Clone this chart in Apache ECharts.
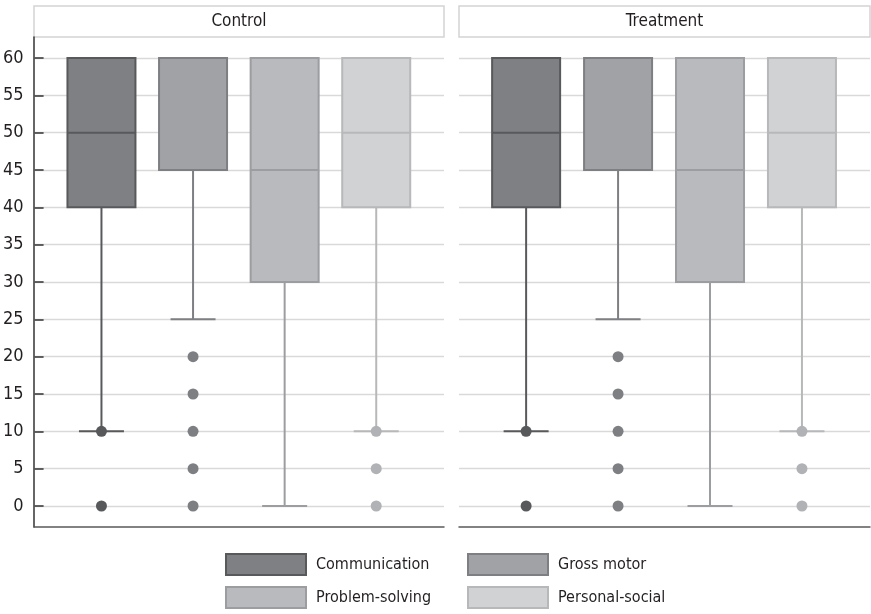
<!DOCTYPE html>
<html>
<head>
<meta charset="utf-8">
<script src="https://cdn.jsdelivr.net/npm/echarts@6/dist/echarts.min.js"></script>
<style>
  html, body { margin: 0; padding: 0; background: #fff; }
  #main { width: 871px; height: 614px; }
</style>
</head>
<body>
<div id="main"></div>
<script>
var groups = ['Control', 'Treatment'];
var domains = ['Communication', 'Gross motor', 'Problem-solving', 'Personal-social'];
var yTicks = [0, 5, 10, 15, 20, 25, 30, 35, 40, 45, 50, 55, 60];

// [lower whisker, Q1, median, Q3, upper whisker] per domain
var controlBoxes = [
    [10, 40, 50, 60, 60],
    [25, 45, 60, 60, 60],
    [0, 30, 45, 60, 60],
    [10, 40, 50, 60, 60]
];
var treatmentBoxes = [
    [10, 40, 50, 60, 60],
    [25, 45, 60, 60, 60],
    [0, 30, 45, 60, 60],
    [10, 40, 50, 60, 60]
];
var controlOutliers = [[10, 0], [20, 15, 10, 5, 0], [], [10, 5, 0]];
var treatmentOutliers = [[10, 0], [20, 15, 10, 5, 0], [], [10, 5, 0]];

var fills = ['#7f8083', '#a1a2a5', '#b9babd', '#d1d2d4'];
var borders = ['#58595b', '#7e7f82', '#9c9da0', '#b7b8ba'];
var dots = ['#58595b', '#7e7f82', '#9c9da0', '#b1b2b5'];

var font = '"DejaVu Sans Condensed", "Liberation Sans Narrow", sans-serif';

const myCharts = echarts.init(document.getElementById('main'));

function renderBox(params, api) {
    var x = api.value(0);
    var lo = api.coord([x, api.value(1)]);
    var q1 = api.coord([x, api.value(2)]);
    var md = api.coord([x, api.value(3)]);
    var q3 = api.coord([x, api.value(4)]);
    var hi = api.coord([x, api.value(5)]);
    var i = params.seriesIndex % 4;
    var bw = 68, cw = 45;
    var cx = q1[0];
    var line = { stroke: borders[i], lineWidth: 2 };
    return {
        type: 'group',
        children: [
            { type: 'line', shape: { x1: cx, y1: q1[1], x2: cx, y2: lo[1] }, style: line },
            { type: 'line', shape: { x1: cx, y1: q3[1], x2: cx, y2: hi[1] }, style: line },
            { type: 'line', shape: { x1: cx - cw / 2, y1: lo[1], x2: cx + cw / 2, y2: lo[1] }, style: line },
            { type: 'line', shape: { x1: cx - cw / 2, y1: hi[1], x2: cx + cw / 2, y2: hi[1] }, style: line },
            {
                type: 'rect',
                shape: { x: cx - bw / 2, y: q3[1], width: bw, height: q1[1] - q3[1] },
                style: { fill: fills[i], stroke: borders[i], lineWidth: 2 }
            },
            { type: 'line', shape: { x1: cx - bw / 2, y1: md[1], x2: cx + bw / 2, y2: md[1] }, style: line }
        ]
    };
}

var series = [];
[controlBoxes, treatmentBoxes].forEach(function (boxes, g) {
    boxes.forEach(function (b, i) {
        series.push({
            name: domains[i],
            type: 'custom',
            xAxisIndex: g * 2,
            yAxisIndex: g * 2,
            renderItem: renderBox,
            itemStyle: { color: fills[i], borderColor: borders[i] },
            data: [[i + 1].concat(b)]
        });
    });
});
[controlOutliers, treatmentOutliers].forEach(function (outs, g) {
    outs.forEach(function (vals, i) {
        series.push({
            name: domains[i],
            type: 'scatter',
            xAxisIndex: g * 2,
            yAxisIndex: g * 2,
            symbolSize: 11,
            itemStyle: { color: dots[i], opacity: 1 },
            data: vals.map(function (v) { return [i + 1, v]; })
        });
    });
});

function legendItem(i) {
    return { name: domains[i], icon: 'rect', itemStyle: { color: fills[i], borderColor: borders[i], borderWidth: 2 } };
}
var legendBase = {
    orient: 'vertical',
    top: 553,
    height: 60,
    padding: 0,
    itemWidth: 80,
    itemHeight: 21,
    itemGap: 10,
    selectedMode: false,
    textStyle: { fontFamily: font, fontSize: 16, color: '#231f20', padding: [0, 0, 0, 5] }
};

var option = {
    animation: false,
    grid: [
        { left: 34, top: 58, width: 410, height: 448 },
        { left: 34, top: 37, width: 410, height: 490 },
        { left: 459, top: 58, width: 411, height: 448 },
        { left: 459, top: 37, width: 411, height: 490 }
    ],
    xAxis: [0, 1, 2, 3].map(function (k) {
        var outer = k % 2 === 1;
        return {
            type: 'value',
            gridIndex: k,
            min: outer ? 0 : 0.27,
            max: outer ? 1 : 4.74,
            axisLine: { show: outer, onZero: false, lineStyle: { color: '#5a5a5a', width: 1.5 } },
            axisTick: { show: false },
            axisLabel: { show: false },
            splitLine: { show: false }
        };
    }),
    yAxis: [0, 1, 2, 3].map(function (k) {
        var outer = k % 2 === 1;
        var leftPanel = k < 2;
        if (outer) {
            return {
                type: 'value', gridIndex: k, min: 0, max: 1,
                axisLine: { show: leftPanel, onZero: false, lineStyle: { color: '#333', width: 1.5 } },
                axisTick: { show: false }, axisLabel: { show: false }, splitLine: { show: false }
            };
        }
        return {
            type: 'value', gridIndex: k,
            min: yTicks[0], max: yTicks[yTicks.length - 1], interval: 5,
            axisLine: { show: false },
            axisTick: { show: leftPanel, inside: true, length: 9, lineStyle: { color: '#333', width: 1.5 } },
            axisLabel: { show: leftPanel, margin: 11, fontFamily: font, fontSize: 18, color: '#231f20' },
            splitLine: { show: true, lineStyle: { color: '#d9d9d9', width: 1.3 } }
        };
    }),
    legend: [
        Object.assign({ left: 225, data: [legendItem(0), legendItem(2)] }, legendBase),
        Object.assign({ left: 467, data: [legendItem(1), legendItem(3)] }, legendBase)
    ],
    graphic: [
        { type: 'rect', shape: { x: 34, y: 6, width: 410, height: 31 }, style: { fill: '#fff', stroke: '#d4d4d4', lineWidth: 1.5 } },
        { type: 'rect', shape: { x: 459, y: 6, width: 411, height: 31 }, style: { fill: '#fff', stroke: '#d4d4d4', lineWidth: 1.5 } },
        { type: 'text', x: 239, y: 22, style: { text: groups[0], fontFamily: font, fontSize: 17, fill: '#231f20', textAlign: 'center', textVerticalAlign: 'middle' } },
        { type: 'text', x: 664.5, y: 22, style: { text: groups[1], fontFamily: font, fontSize: 17, fill: '#231f20', textAlign: 'center', textVerticalAlign: 'middle' } }
    ],
    series: series
};
myCharts.setOption(option);
</script>
</body>
</html>
